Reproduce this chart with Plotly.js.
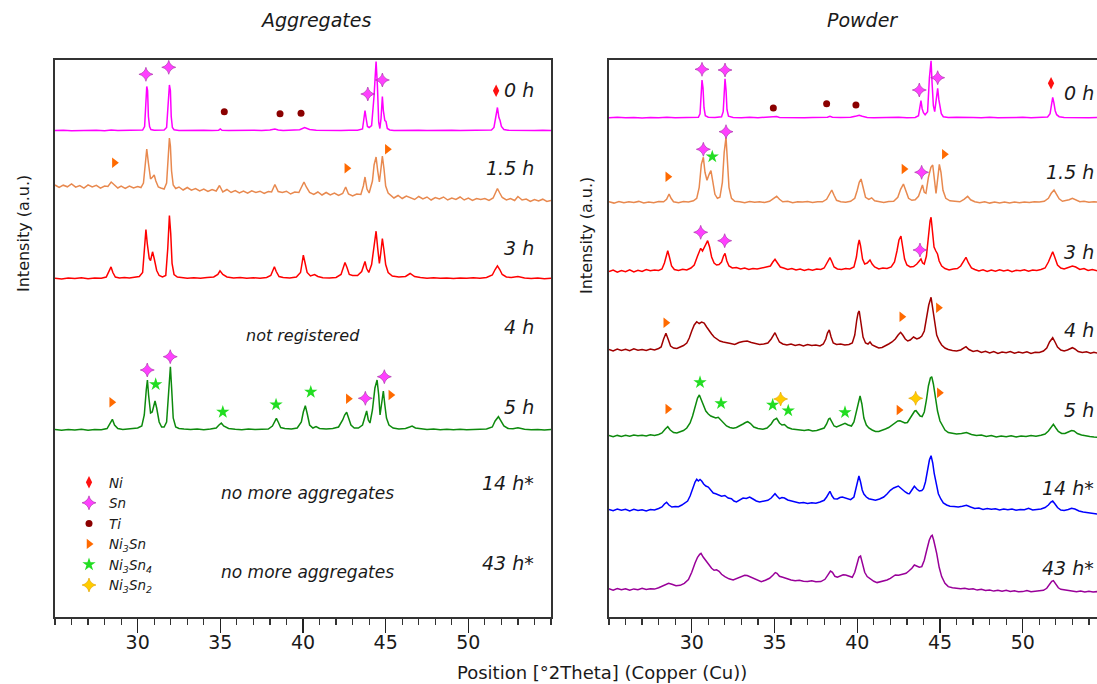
<!DOCTYPE html>
<html>
<head>
<meta charset="utf-8">
<script src="https://cdn.plot.ly/plotly-3.0.1.min.js"></script>
<style>html,body{margin:0;padding:0;background:#fff;}#chart{width:1097px;height:684px;}</style>
</head>
<body>
<div id="chart"></div>
<script>
// ---------------- DATA (2theta, intensity above pattern baseline; arbitrary units) ----------------
const timeLabels = ["0 h", "1.5 h", "3 h", "4 h", "5 h", "14 h*", "43 h*"];

// Aggregates panel: stacking baselines for 0 h, 1.5 h, 3 h, 5 h
const aggBase = [486.5, 416, 338.5, 187];
// Powder panel: stacking baselines for 0 h, 1.5 h, 3 h, 4 h, 5 h, 14 h*, 43 h*
const powBase = [499.3, 414.7, 346, 264, 181, 103, 24.7];

const agg0h = [25.0,0, 25.5,0.3, 26.0,-0.2, 26.5,0.2, 27.0,0, 27.5,0.3, 28.0,-0.2, 28.4,0.4, 28.8,0, 29.2,0.2, 29.6,-0.1, 30.0,0.2, 30.3,0.5, 30.42,4, 30.48,30, 30.55,44, 30.6,40, 30.65,14, 30.72,4, 30.8,1, 31.0,0.3, 31.3,0, 31.6,0.4, 31.75,3, 31.85,30, 31.92,45.5, 31.98,40, 32.03,14, 32.1,3, 32.2,0.8, 32.5,0, 33.0,0.3, 33.5,-0.1, 34.0,0.2, 34.5,0, 34.9,0.3, 35.0,1.5, 35.1,0.2, 35.5,0, 36.0,0.3, 36.5,-0.1, 37.0,0.2, 37.5,0, 38.0,0.4, 38.3,1.5, 38.5,0.5, 38.8,0, 39.3,0.3, 39.8,0.8, 40.1,3, 40.4,1, 40.8,0.2, 41.3,0, 41.8,0.3, 42.3,-0.1, 42.8,0.2, 43.3,0.3, 43.6,1.5, 43.7,15, 43.75,20, 43.82,12, 43.9,4, 44.0,3, 44.15,5, 44.3,35, 44.42,69, 44.5,45, 44.58,8, 44.65,2, 44.72,12, 44.8,34, 44.86,20, 44.95,10, 45.02,9, 45.1,2, 45.25,0.5, 45.5,0, 46.0,0.3, 46.5,-0.1, 47.0,0.2, 47.5,0, 48.0,0.3, 48.5,0, 49.0,0.2, 49.5,-0.1, 50.0,0.2, 50.5,0, 51.0,0.3, 51.4,0.5, 51.55,3, 51.68,15, 51.76,23, 51.85,13, 51.92,10, 52.0,4, 52.15,1, 52.4,0.3, 53.0,0, 53.5,0.2, 54.0,-0.1, 54.5,0.2, 55.0,0];

const agg15h = [25.0,16.0, 25.25,13.5, 25.5,15.8, 25.75,14.2, 26.0,17.0, 26.25,13.8, 26.5,15.5, 26.75,12.9, 27.0,16.2, 27.25,14.0, 27.5,15.6, 27.75,12.8, 28.0,15.0, 28.2,14.5, 28.4,19.0, 28.6,15.5, 28.8,13.0, 29.0,14.8, 29.25,12.5, 29.5,15.0, 29.75,13.0, 30.0,14.5, 30.2,13.5, 30.35,18, 30.45,40, 30.55,52, 30.65,38, 30.78,22, 30.9,24, 31.0,26, 31.1,20, 31.25,14, 31.4,13, 31.6,12, 31.75,18, 31.85,50, 31.92,63, 31.98,55, 32.05,30, 32.15,16, 32.3,12.5, 32.5,14.0, 32.75,11.0, 33.0,13.5, 33.25,10.8, 33.5,12.5, 33.75,10.0, 34.0,12.0, 34.25,9.5, 34.5,11.5, 34.75,10.0, 34.95,15.5, 35.15,9.0, 35.4,11.5, 35.65,8.5, 35.9,10.5, 36.15,8.0, 36.4,10.0, 36.65,7.8, 36.9,10.2, 37.15,8.5, 37.4,9.8, 37.65,7.5, 37.9,9.5, 38.1,9.0, 38.3,16.5, 38.5,9.5, 38.75,8.5, 39.0,9.8, 39.25,7.0, 39.5,9.0, 39.75,8.5, 39.95,15, 40.06,19, 40.2,14, 40.4,8.5, 40.65,6.5, 40.9,9.0, 41.15,6.0, 41.4,8.5, 41.65,6.0, 41.9,8.0, 42.15,5.5, 42.4,7.5, 42.58,14, 42.75,7.0, 43.0,5.0, 43.25,7.0, 43.5,6.5, 43.65,15, 43.75,24, 43.87,12, 44.0,8, 44.2,20, 44.3,36, 44.42,44, 44.52,30, 44.62,19, 44.7,30, 44.8,45, 44.9,32, 45.0,15, 45.15,8, 45.3,5.5, 45.5,3.0, 45.75,5.5, 46.0,2.5, 46.25,5.0, 46.5,3.5, 46.75,1.5, 47.0,4.5, 47.25,2.0, 47.5,4.0, 47.75,1.0, 48.0,3.5, 48.25,2.0, 48.5,4.0, 48.75,1.0, 49.0,3.0, 49.25,1.5, 49.5,4.0, 49.75,1.0, 50.0,3.0, 50.25,0.5, 50.5,2.5, 50.75,1.5, 51.0,2.5, 51.25,0.5, 51.5,3.0, 51.65,8, 51.76,12.5, 51.9,8, 52.05,3.5, 52.3,1.0, 52.55,2.5, 52.8,0.5, 53.0,4.5, 53.25,1.0, 53.5,2.0, 53.75,-0.5, 54.0,1.5, 54.25,0.0, 54.5,1.8, 54.75,-0.5, 55.0,0.5];

const agg3h = [25.0,0.3, 25.4,-0.5, 25.8,0.6, 26.2,0, 26.6,0.8, 27.0,-0.3, 27.4,0.5, 27.8,0.2, 28.1,1.5, 28.25,6, 28.39,11.6, 28.5,6, 28.65,1.5, 28.9,0.5, 29.2,1, 29.5,0.5, 29.8,1.2, 30.1,2, 30.3,6, 30.42,30, 30.5,49, 30.58,35, 30.7,20, 30.78,18, 30.9,26.7, 31.0,20, 31.15,8, 31.3,3, 31.5,1.5, 31.7,3, 31.82,30, 31.92,63, 32.0,45, 32.08,15, 32.2,4, 32.4,1.5, 32.7,1, 33.0,0.3, 33.4,0.8, 33.8,0.2, 34.2,1.0, 34.6,1.5, 34.85,4, 34.98,7.7, 35.15,4, 35.4,1.5, 35.8,0.5, 36.2,1, 36.6,0.3, 37.0,0.8, 37.4,0.2, 37.8,1.0, 38.05,3, 38.18,8, 38.27,11.7, 38.38,7, 38.55,2, 38.8,1, 39.2,0.5, 39.6,1.5, 39.85,6, 39.95,16, 40.02,23.3, 40.12,16, 40.25,6, 40.45,2.5, 40.7,4, 40.9,2, 41.2,0.8, 41.6,0.5, 42.0,1.0, 42.3,4, 42.42,11, 42.54,16, 42.66,11, 42.8,4, 43.0,3, 43.3,3, 43.55,7, 43.68,14, 43.75,17, 43.85,10, 43.98,6, 44.15,14, 44.3,35, 44.42,47.3, 44.52,30, 44.62,15, 44.7,25, 44.8,40, 44.9,28, 45.0,14, 45.15,6, 45.4,2.5, 45.8,1.5, 46.2,2, 46.48,5, 46.75,2, 47.1,1, 47.5,0.3, 47.9,0.8, 48.3,0.2, 48.7,0.6, 49.1,0, 49.5,0.5, 49.9,0.2, 50.3,0.8, 50.7,0.3, 51.1,1, 51.45,3.5, 51.62,9, 51.76,12.7, 51.9,9, 52.05,4, 52.3,1.5, 52.6,1, 53.0,2, 53.4,0.5, 53.8,0, 54.2,0.5, 54.6,-0.2, 55.0,0.3];

const agg5h = [25.0,0.5, 25.4,-0.3, 25.8,0.5, 26.2,0, 26.6,0.7, 27.0,-0.2, 27.4,0.6, 27.8,0.3, 28.15,1.5, 28.32,6, 28.47,10.7, 28.6,5, 28.8,1.5, 29.1,0.5, 29.4,1, 29.7,0.8, 30.0,2, 30.25,4, 30.4,15, 30.52,40, 30.59,50, 30.66,35, 30.78,17, 30.88,18, 31.05,29, 31.15,22, 31.3,8, 31.45,3, 31.6,3, 31.75,8, 31.88,45, 31.98,63.3, 32.06,40, 32.15,12, 32.3,3, 32.5,1.5, 32.8,1, 33.2,0.5, 33.6,1, 34.0,0.3, 34.4,1, 34.75,2, 34.92,5, 35.06,7, 35.2,4, 35.5,1.5, 35.9,0.8, 36.3,0.3, 36.7,1, 37.1,0.4, 37.5,0.8, 37.9,1, 38.15,4, 38.28,9, 38.39,11.7, 38.5,8, 38.65,2.5, 38.9,1.5, 39.3,1, 39.65,2, 39.9,8, 40.02,18, 40.14,24.3, 40.26,16, 40.4,5, 40.6,2, 40.79,3.5, 41.0,1.5, 41.4,1, 41.8,1.5, 42.15,3, 42.4,10, 42.52,15, 42.64,17.7, 42.76,12, 42.9,5, 43.1,2, 43.35,2, 43.6,5, 43.75,15, 43.85,19, 43.95,10, 44.05,7, 44.2,20, 44.35,42, 44.48,50, 44.58,35, 44.66,15, 44.75,25, 44.86,39, 44.95,25, 45.05,12, 45.2,5, 45.45,2, 45.8,1, 46.2,1.5, 46.45,3, 46.6,4, 46.8,2, 47.1,1, 47.5,0.4, 47.9,1, 48.3,0.2, 48.7,0.8, 49.1,0.3, 49.5,0.8, 49.9,0.2, 50.3,0.6, 50.7,0.5, 51.1,1, 51.45,3, 51.62,9, 51.82,13.3, 51.98,9, 52.15,4, 52.4,1.5, 52.7,1.2, 53.0,2.2, 53.4,0.8, 53.8,0.3, 54.2,0.6, 54.6,0, 55.0,0.4];

const pow0h = [25.0,0, 25.5,0.4, 26.0,0, 26.5,0.3, 27.0,-0.2, 27.5,0.3, 28.0,0, 28.5,0.4, 29.0,0, 29.5,0.3, 30.0,0, 30.4,0.5, 30.5,4, 30.56,25, 30.62,37.7, 30.68,30, 30.74,10, 30.82,2, 31.0,0.5, 31.4,0.2, 31.8,1, 31.9,6, 31.96,30, 32.01,39, 32.07,28, 32.13,8, 32.22,1.5, 32.5,0.3, 33.0,0, 33.5,0.4, 34.0,0, 34.5,0.3, 34.95,0.5, 35.13,1.2, 35.3,0.3, 35.8,0, 36.3,0.4, 36.8,0, 37.3,0.3, 37.8,0, 38.2,0.5, 38.35,1.5, 38.5,0.5, 39.0,0.2, 39.6,0.5, 39.95,1.8, 40.12,2.5, 40.3,1.5, 40.6,0.3, 41.0,0, 41.5,0.3, 42.0,0, 42.5,0.4, 43.0,0, 43.5,0.3, 43.7,2, 43.8,12, 43.85,17, 43.92,9, 44.0,5, 44.1,3, 44.25,6, 44.36,40, 44.46,57, 44.52,35, 44.6,12, 44.68,6, 44.78,18, 44.86,29.3, 44.93,18, 45.0,12, 45.08,4, 45.2,1, 45.5,0.2, 46.0,0.4, 46.5,0, 47.0,0.3, 47.5,0, 48.0,0.4, 48.5,0, 49.0,0.3, 49.5,0, 50.0,0.4, 50.5,0, 51.0,0.3, 51.5,0.8, 51.65,4, 51.74,15, 51.81,20.3, 51.88,15, 51.96,7, 52.05,3, 52.2,1, 52.5,0.3, 53.0,0, 53.5,0.3, 54.0,0, 54.5,0.2];

const pow15h = [25.0,0.5, 25.3,-0.8, 25.6,0.8, 25.9,-0.5, 26.2,0.6, 26.5,-0.3, 26.8,0.9, 27.1,-0.6, 27.4,0.4, 27.7,-0.4, 28.0,0.8, 28.3,0.5, 28.48,3, 28.63,8.3, 28.75,4, 28.9,0.5, 29.2,-0.5, 29.5,0.8, 29.8,0.2, 30.1,1.5, 30.3,4, 30.45,15, 30.58,38, 30.7,45, 30.8,30, 30.92,22, 31.05,28, 31.16,31.7, 31.26,22, 31.4,8, 31.55,4, 31.7,5, 31.85,20, 31.96,50, 32.07,65, 32.15,45, 32.25,15, 32.4,4, 32.6,1, 32.9,0.5, 33.2,-0.5, 33.5,0.8, 33.8,0, 34.1,0.6, 34.4,-0.3, 34.7,1, 34.95,3.5, 35.13,6, 35.3,3, 35.5,0.5, 35.8,1, 36.1,-0.5, 36.4,0.5, 36.7,0.2, 37.0,0.8, 37.3,-0.3, 37.6,0.6, 37.9,0.5, 38.15,3, 38.3,8, 38.46,12.3, 38.6,7, 38.75,2, 39.0,0.5, 39.3,0, 39.6,1, 39.85,4, 40.0,12, 40.12,20, 40.23,23.3, 40.35,14, 40.5,5, 40.7,3, 40.87,4.5, 41.05,1.5, 41.3,0.5, 41.6,-0.3, 41.9,0.8, 42.2,1, 42.45,5, 42.62,13, 42.79,18.3, 42.95,10, 43.1,4, 43.3,2, 43.5,2.5, 43.7,6, 43.82,12, 43.94,17.3, 44.05,10, 44.15,9, 44.3,25, 44.45,35, 44.56,37.3, 44.66,22, 44.76,9, 44.85,22, 44.96,38, 45.06,30, 45.18,12, 45.35,4, 45.6,1.5, 45.9,1, 46.2,0.5, 46.45,3, 46.67,6, 46.85,2.5, 47.1,0.5, 47.4,-0.5, 47.7,0.6, 48.0,-0.8, 48.3,0.4, 48.6,-0.6, 48.9,0.3, 49.2,-0.8, 49.5,0.2, 49.8,-0.5, 50.1,0.4, 50.4,-0.3, 50.7,0.6, 51.0,0.2, 51.3,1, 51.55,4, 51.72,9, 51.89,12.3, 52.05,8, 52.2,3.5, 52.4,1, 52.6,1.5, 52.8,2.5, 53.0,4, 53.2,2.5, 53.45,0.5, 53.7,1, 54.0,0, 54.3,0.5, 54.5,0.2];

const pow3h = [25.0,-0.5, 25.25,1.0, 25.5,-1.2, 25.75,0.5, 26.0,-0.8, 26.25,1.2, 26.5,-1.0, 26.75,0.8, 27.0,-0.5, 27.25,1.5, 27.5,0.2, 27.75,1.0, 28.0,0.5, 28.2,2, 28.35,8, 28.47,17, 28.55,20.3, 28.65,14, 28.78,5, 28.95,1.5, 29.2,0.5, 29.45,1.8, 29.7,1, 29.95,3, 30.15,6, 30.35,15, 30.54,22.7, 30.65,20, 30.78,24, 30.96,30.3, 31.08,24, 31.2,14, 31.35,8, 31.5,6, 31.65,6.5, 31.8,9, 31.92,15, 32.01,17.7, 32.12,10, 32.25,5, 32.45,3, 32.7,3.5, 32.95,2, 33.2,3, 33.45,1.5, 33.7,2.5, 33.95,2, 34.2,3, 34.5,3.5, 34.75,5, 34.9,9, 35.03,11.7, 35.18,8, 35.35,4, 35.55,3, 35.8,1.5, 36.05,2.5, 36.3,1, 36.55,2, 36.8,0.5, 37.05,1.8, 37.3,0.8, 37.55,2, 37.8,1.5, 38.0,3, 38.15,7, 38.25,11, 38.35,13.3, 38.45,10, 38.6,4, 38.8,2, 39.05,1.5, 39.3,2.5, 39.55,2, 39.8,4, 39.95,14, 40.05,26, 40.12,31, 40.2,25, 40.32,12, 40.45,7, 40.6,8, 40.77,11, 40.9,7, 41.05,4, 41.3,2, 41.55,3, 41.8,2.5, 42.05,4, 42.25,9, 42.4,20, 42.52,31, 42.64,35, 42.74,26, 42.86,12, 43.0,6, 43.2,4, 43.4,4.5, 43.6,7, 43.75,10, 43.85,12, 43.95,8, 44.05,7, 44.18,15, 44.3,36, 44.4,50, 44.46,53.7, 44.54,40, 44.64,24, 44.75,20, 44.85,17, 44.95,10, 45.1,5, 45.3,2.5, 45.55,1, 45.8,2, 46.05,2.5, 46.25,5, 46.42,10, 46.57,13.7, 46.72,8, 46.9,3, 47.1,1.5, 47.35,0, 47.6,1.2, 47.85,-0.5, 48.1,1, 48.35,-0.3, 48.6,1.2, 48.85,0, 49.1,1, 49.35,-0.8, 49.6,0.8, 49.85,0.2, 50.1,1.3, 50.35,-0.2, 50.6,1, 50.85,0.5, 51.1,1.5, 51.35,3, 51.55,9, 51.7,16, 51.81,19.3, 51.93,14, 52.1,6, 52.3,3, 52.5,2, 52.75,3.5, 53.0,5, 53.2,4, 53.45,1.5, 53.7,2.5, 53.95,0.5, 54.2,1.5, 54.5,0.2];

const pow4h = [25.0,3.5, 25.25,2.0, 25.5,4.0, 25.75,2.5, 26.0,3.8, 26.25,2.2, 26.5,4.2, 26.75,2.8, 27.0,3.5, 27.25,2.5, 27.5,4.0, 27.75,3.0, 28.0,4.5, 28.15,6, 28.3,14, 28.44,19.7, 28.57,14, 28.72,7, 28.9,5, 29.1,4.5, 29.3,6, 29.5,7.5, 29.7,10, 29.85,15, 30.0,22, 30.15,28, 30.3,31.3, 30.45,29.5, 30.6,31, 30.75,30, 30.9,26, 31.05,22, 31.2,19, 31.35,16, 31.5,14, 31.7,12, 31.9,11, 32.1,10, 32.35,9.5, 32.6,8.5, 32.85,10.5, 33.1,11.5, 33.35,12, 33.6,10.5, 33.85,9.5, 34.1,8.5, 34.35,9, 34.6,10, 34.8,14, 34.95,19, 35.03,20.3, 35.15,16, 35.3,11, 35.5,9, 35.75,8, 36.0,9, 36.25,7.5, 36.5,8.5, 36.75,7, 37.0,8.5, 37.25,7.5, 37.5,8, 37.75,7, 37.95,9, 38.1,14, 38.2,20, 38.31,23, 38.42,16, 38.55,10, 38.75,8.5, 39.0,9, 39.25,8, 39.5,8.5, 39.7,10, 39.85,18, 39.97,33, 40.05,40, 40.12,42, 40.22,32, 40.35,16, 40.5,10, 40.65,9, 40.77,11, 40.9,8, 41.1,6.5, 41.3,5, 41.5,5.5, 41.7,7, 41.9,9, 42.1,11, 42.3,14, 42.47,18, 42.62,20.7, 42.75,18, 42.9,14, 43.05,12, 43.2,13, 43.4,16, 43.6,14, 43.75,15, 43.9,17, 44.05,22, 44.2,35, 44.32,48, 44.46,55.7, 44.56,45, 44.68,28, 44.8,18, 44.95,12, 45.1,8, 45.3,5, 45.5,3.5, 45.75,2.5, 46.0,2, 46.25,3, 46.42,5, 46.57,6.3, 46.75,3.5, 47.0,1.5, 47.25,2.5, 47.5,0.5, 47.75,1.8, 48.0,0, 48.25,1.5, 48.5,-0.5, 48.75,1.0, 49.0,0.2, 49.25,1.5, 49.5,-0.3, 49.75,1.0, 50.0,0, 50.25,1.2, 50.5,-0.5, 50.75,0.8, 51.0,0.5, 51.25,2, 51.45,5, 51.62,11, 51.81,15.3, 51.95,11, 52.1,6, 52.3,3, 52.5,2, 52.7,3, 52.85,4.5, 53.0,5.3, 53.15,4, 53.35,1.5, 53.6,0.5, 53.85,1.2, 54.1,-0.3, 54.3,0.8, 54.5,0];

const pow5h = [25.0,0.5, 25.25,-0.8, 25.5,0.6, 25.75,-0.4, 26.0,0.8, 26.25,-0.2, 26.5,1.0, 26.75,0.2, 27.0,0.8, 27.25,0, 27.5,1.2, 27.75,0.5, 28.0,1.5, 28.2,3, 28.4,7, 28.55,9.3, 28.7,6, 28.9,3.5, 29.1,3, 29.3,4, 29.5,5.5, 29.7,8, 29.9,13, 30.05,20, 30.2,30, 30.35,38, 30.46,41, 30.58,36, 30.7,30, 30.85,25, 31.0,22, 31.15,20, 31.3,19, 31.45,18, 31.6,18.7, 31.75,16, 31.9,13, 32.1,10, 32.3,8.5, 32.5,7.7, 32.7,8.5, 32.9,10, 33.1,12, 33.25,13.5, 33.38,14.3, 33.55,12.5, 33.75,9, 34.0,7.5, 34.3,6.7, 34.55,8, 34.8,12, 34.95,16, 35.13,17.7, 35.3,13, 35.45,11, 35.6,11.5, 35.8,8.5, 36.05,7, 36.3,6.5, 36.55,6, 36.8,5.5, 37.05,6.2, 37.3,5, 37.55,5.5, 37.8,6.5, 38.0,8, 38.15,12, 38.27,17, 38.35,17.7, 38.45,14, 38.6,10, 38.75,9, 38.95,10.5, 39.1,12, 39.26,12.7, 39.45,11, 39.65,10, 39.8,14, 39.95,25, 40.07,36, 40.17,40, 40.28,32, 40.4,18, 40.55,11, 40.7,8, 40.9,6, 41.1,4.5, 41.3,4.5, 41.5,5.5, 41.7,7, 41.9,8.5, 42.1,11, 42.3,13.5, 42.45,15, 42.58,15.3, 42.72,14, 42.88,13, 43.03,13.5, 43.18,17, 43.35,22, 43.47,25, 43.55,25.3, 43.65,23, 43.8,20, 43.92,19.5, 44.05,24, 44.18,36, 44.3,50, 44.42,58, 44.5,59.3, 44.6,52, 44.72,38, 44.85,25, 45.0,15, 45.15,10, 45.3,6, 45.5,3.5, 45.75,2.5, 46.0,2, 46.3,2.5, 46.6,3.5, 46.9,1.5, 47.2,0.5, 47.5,1, 47.8,-0.5, 48.1,0.5, 48.4,-1, 48.7,0, 49.0,-0.8, 49.3,0.3, 49.6,-1, 49.9,0, 50.2,-0.6, 50.5,0.5, 50.8,-0.2, 51.1,0.8, 51.35,2, 51.55,5, 51.72,9.5, 51.85,11.7, 52.0,8, 52.15,4.5, 52.35,2.5, 52.55,2.5, 52.75,4, 52.95,5.5, 53.1,5, 53.3,2.5, 53.55,1, 53.8,0, 54.05,-0.5, 54.3,-1, 54.5,-1.3];

const pow14h = [25.0,4.5, 25.25,3.2, 25.5,5.0, 25.75,3.8, 26.0,4.8, 26.25,3.0, 26.5,4.6, 26.75,3.5, 27.0,4.2, 27.25,3.0, 27.5,4.5, 27.75,4.0, 28.0,5.5, 28.2,7, 28.35,10, 28.48,11.7, 28.62,9, 28.8,7, 29.0,7.5, 29.2,7.3, 29.4,9, 29.6,11, 29.75,13, 29.9,18, 30.05,26, 30.2,32, 30.3,34.7, 30.4,33, 30.5,34.5, 30.6,33, 30.72,30, 30.85,28, 31.0,27, 31.15,24, 31.3,21, 31.45,20.3, 31.6,19, 31.8,17.7, 32.0,18.5, 32.2,16, 32.4,15.3, 32.55,13, 32.7,12, 32.9,14, 33.1,16, 33.3,15.5, 33.5,17, 33.7,15, 33.9,13, 34.1,12, 34.35,12.5, 34.6,13.7, 34.8,16, 34.95,19, 35.03,20.3, 35.15,18, 35.3,15.3, 35.45,16.5, 35.6,16, 35.8,14, 36.0,13, 36.25,12, 36.5,11, 36.75,11.5, 37.0,10.5, 37.25,11.3, 37.5,10.7, 37.75,12, 38.0,13.7, 38.15,17, 38.27,21, 38.35,22.7, 38.48,18, 38.6,15.3, 38.8,15, 38.95,16.5, 39.1,17, 39.3,16, 39.6,14.3, 39.8,17, 39.95,28, 40.05,36, 40.1,38, 40.2,32, 40.3,24, 40.4,20, 40.55,17, 40.7,15.3, 40.9,14.5, 41.1,13.7, 41.35,15, 41.6,17, 41.8,20, 42.0,23.7, 42.2,26, 42.35,27.5, 42.48,28, 42.62,26, 42.75,24, 42.9,22, 43.05,20.5, 43.15,20.3, 43.3,24, 43.45,27.7, 43.6,25, 43.75,23, 43.9,23.5, 44.0,25.3, 44.12,32, 44.25,44, 44.36,54, 44.46,58.3, 44.56,51, 44.65,40.7, 44.78,28, 44.9,20.3, 45.05,15, 45.2,11, 45.4,9, 45.6,7.7, 45.85,7.5, 46.1,7, 46.35,7.8, 46.6,8.7, 46.85,7, 47.1,5.5, 47.35,6, 47.6,4.5, 47.85,5.5, 48.1,4.7, 48.35,5.2, 48.6,4, 48.85,5, 49.1,4.2, 49.35,5, 49.6,3.8, 49.85,4.6, 50.1,4.3, 50.35,5.8, 50.6,4, 50.85,4.5, 51.1,5, 51.35,6.5, 51.55,9, 51.7,12, 51.81,13, 51.95,10, 52.1,6.5, 52.3,4, 52.5,3.5, 52.75,4.5, 52.95,5.7, 53.15,5, 53.4,3, 53.65,2, 53.9,1.5, 54.2,0.5, 54.5,0];

const pow43h = [25.0,3.5, 25.25,2.2, 25.5,3.8, 25.75,2.5, 26.0,3.6, 26.25,2.0, 26.5,3.4, 26.75,2.6, 27.0,3.9, 27.25,2.8, 27.5,3.5, 27.75,3.2, 28.0,4.5, 28.2,6, 28.4,8, 28.6,9, 28.8,8, 29.05,6.5, 29.3,7, 29.55,9, 29.8,12.7, 30.0,20, 30.2,29.3, 30.35,35, 30.48,38, 30.56,39, 30.7,35, 30.9,30.7, 31.05,27, 31.2,24, 31.35,22, 31.5,22.5, 31.65,21, 31.8,18, 32.0,15.7, 32.25,13.5, 32.5,12.3, 32.75,14, 33.0,15.7, 33.2,17, 33.35,16.7, 33.5,15.5, 33.7,14, 33.95,12, 34.2,10.7, 34.45,12, 34.7,14, 34.9,17, 35.05,19.7, 35.15,19, 35.3,16, 35.5,15, 35.75,13.5, 36.0,12.3, 36.25,11.5, 36.5,12, 36.75,11, 37.0,10.7, 37.25,11.5, 37.5,10.5, 37.8,10.7, 38.05,13, 38.25,18, 38.38,21.3, 38.5,20, 38.65,16, 38.8,15, 39.0,16.5, 39.15,17.5, 39.3,17.3, 39.5,16, 39.7,15, 39.85,20, 40.0,30, 40.1,35, 40.2,36.3, 40.3,30, 40.45,20, 40.6,15.7, 40.8,13, 41.0,11, 41.2,9.7, 41.4,10.5, 41.6,11, 41.8,12.3, 42.0,14, 42.15,16, 42.3,17.3, 42.5,17, 42.65,17.5, 42.8,18, 42.95,19, 43.1,21, 43.3,24, 43.45,27.3, 43.6,26.5, 43.75,25, 43.9,25.7, 44.05,32, 44.2,42.3, 44.35,52, 44.46,56, 44.53,57, 44.62,52, 44.72,45, 44.8,39, 44.95,25, 45.1,15.7, 45.3,9, 45.5,5.7, 45.75,4.5, 46.0,4.2, 46.25,3.5, 46.5,4, 46.75,3, 47.0,3.5, 47.25,2.2, 47.5,3, 47.75,1.8, 48.0,2.3, 48.25,1.2, 48.5,2, 48.75,1, 49.0,2, 49.25,0.8, 49.5,1.5, 49.75,0.5, 50.0,0.7, 50.25,1.8, 50.5,0.5, 50.75,1.2, 51.0,1.5, 51.25,2, 51.45,4, 51.62,8, 51.75,11, 51.85,11.7, 51.98,8, 52.15,4.5, 52.3,3, 52.5,2.5, 52.75,2, 53.0,1.5, 53.25,0.5, 53.5,1.2, 53.75,0.3, 54.0,1, 54.25,0.2, 54.5,0.7];

// Phase identification markers: [2theta, level] pairs (same intensity units)
const phaseNames = ["Ni", "Sn", "Ti", "Ni<sub>3</sub>Sn", "Ni<sub>3</sub>Sn<sub>4</sub>", "Ni<sub>3</sub>Sn<sub>2</sub>"];
const aggNi = [44.42,565.3, 51.68,526.3];
const aggSn = [30.5,542.7, 31.88,549.7, 43.92,523, 44.8,537, 30.58,247, 31.97,260.3, 43.77,218.7, 44.92,240.3];
const aggTi = [35.24,505.3, 38.61,503.3, 39.88,503.7];
const aggNi3Sn = [28.59,454.3, 42.65,448.7, 45.1,467.7, 28.43,214.7, 42.74,218.3, 45.31,222];
const aggNi3Sn4 = [31.09,232.7, 35.15,205, 38.37,212.3, 40.47,225];
const powNi = [44.46,564.7, 51.71,533.7];
const powSn = [30.62,547.7, 32.01,547, 43.75,527, 44.86,539.3, 30.7,467.7, 32.07,485.3, 43.89,444.7, 30.54,384.7, 31.99,376.3, 43.79,367];
const powTi = [34.93,509, 38.15,513.3, 39.92,512];
const powNi3Sn = [28.55,440.3, 42.82,448, 45.26,462.7, 28.43,294.3, 42.69,300.3, 44.9,309.3, 28.55,208, 42.52,207, 44.96,224.3];
const powNi3Sn4 = [31.24,460.3, 30.5,234.7, 31.77,213.7, 34.89,212, 35.83,206.3, 39.26,204.7];
const powNi3Sn2 = [35.37,218, 43.53,218.7];

// ---------------- BUILD ----------------
const FONT = "DejaVu Sans, sans-serif";
const TXT = "#1a1a1a";
const lineColors = ["#ff00ff", "#e8894f", "#ff0000", "#a00000", "#0d8a0d", "#0000ff", "#990099"];

function pairs(flat, base) {
  const x = [], y = [];
  for (let i = 0; i < flat.length; i += 2) { x.push(flat[i]); y.push(base + flat[i + 1]); }
  return {x, y};
}
const traces = [];
function addLine(flat, base, color, xa, ya) {
  const p = pairs(flat, base);
  traces.push({type: "scatter", mode: "lines", x: p.x, y: p.y, xaxis: xa, yaxis: ya,
    line: {color: color, width: 1.5}, showlegend: false, hoverinfo: "skip"});
}
addLine(agg0h, aggBase[0], lineColors[0], "x", "y");
addLine(agg15h, aggBase[1], lineColors[1], "x", "y");
addLine(agg3h, aggBase[2], lineColors[2], "x", "y");
addLine(agg5h, aggBase[3], lineColors[4], "x", "y");
const powData = [pow0h, pow15h, pow3h, pow4h, pow5h, pow14h, pow43h];
powData.forEach((d, i) => addLine(d, powBase[i], lineColors[i], "x2", "y2"));

const markerStyles = [
  {symbol: "diamond-tall", color: "#ff1010", size: 9, line: {width: 0}},
  {symbol: "star-diamond", color: "#ff40ff", size: 10, line: {width: 0.6, color: "#a030a0"}},
  {symbol: "circle", color: "#8b0000", size: 7, line: {width: 0}},
  {symbol: "triangle-right", color: "#ff6a00", size: 9, line: {width: 0}},
  {symbol: "star", color: "#22dd22", size: 10, line: {width: 0}},
  {symbol: "star-diamond", color: "#ffcc00", size: 10, line: {width: 0.6, color: "#e0a000"}}
];
function addMarkers(flat, k, xa, ya, legend) {
  const p = pairs(flat, 0);
  traces.push({type: "scatter", mode: "markers", x: p.x, y: p.y, xaxis: xa, yaxis: ya,
    name: phaseNames[k], legendrank: k + 1, showlegend: legend, cliponaxis: false,
    marker: markerStyles[k], hoverinfo: "skip"});
}
addMarkers(aggNi, 0, "x", "y", true);
addMarkers(aggSn, 1, "x", "y", true);
addMarkers(aggTi, 2, "x", "y", true);
addMarkers(aggNi3Sn, 3, "x", "y", true);
addMarkers(aggNi3Sn4, 4, "x", "y", true);
addMarkers(powNi3Sn2, 5, "x2", "y2", true);
addMarkers(powNi, 0, "x2", "y2", false);
addMarkers(powSn, 1, "x2", "y2", false);
addMarkers(powTi, 2, "x2", "y2", false);
addMarkers(powNi3Sn, 3, "x2", "y2", false);
addMarkers(powNi3Sn4, 4, "x2", "y2", false);

const annotations = [];
const leftLabelY = [527, 449, 369, 290, 210, 134, 54];
const rightLabelY = [524, 445, 365, 287, 207, 129, 49];
timeLabels.forEach((t, i) => {
  annotations.push({text: t, xref: "paper", x: 536 / 1097, xanchor: "right", yref: "y", y: leftLabelY[i], yanchor: "middle",
    showarrow: false, font: {family: FONT, size: 19, color: TXT, style: "italic"}});
  annotations.push({text: t, xref: "paper", x: 1096 / 1097, xanchor: "right", yref: "y2", y: rightLabelY[i], yanchor: "middle",
    showarrow: false, font: {family: FONT, size: 19, color: TXT, style: "italic"}});
});
function note(text, xref, x, yref, y, size, extra) {
  annotations.push(Object.assign({text: text, xref: xref, x: x, yref: yref, y: y, xanchor: "center", yanchor: "middle",
    showarrow: false, font: {family: FONT, size: size, color: TXT}}, extra || {}));
}
note("not registered", "x", 40.0, "y", 282, 16, {font: {family: FONT, size: 16, color: TXT, style: "italic"}});
note("no more aggregates", "x", 40.3, "y", 124, 17, {font: {family: FONT, size: 17, color: TXT, style: "italic"}});
note("no more aggregates", "x", 40.3, "y", 45, 17, {font: {family: FONT, size: 17, color: TXT, style: "italic"}});
note("Aggregates", "paper", 315 / 1097, "paper", (617 - 20) / 557, 19, {font: {family: FONT, size: 19, color: TXT, style: "italic"}});
note("Powder", "paper", 862 / 1097, "paper", (617 - 20) / 557, 19, {font: {family: FONT, size: 19, color: TXT, style: "italic"}});
note("Intensity (a.u.)", "paper", 24 / 1097, "paper", (617 - 234) / 557, 16, {textangle: -90});
note("Intensity (a.u.)", "paper", 586 / 1097, "paper", (617 - 236) / 557, 16, {textangle: -90});
note("Position [°2Theta] (Copper (Cu))", "paper", 602 / 1097, "paper", (617 - 672) / 557, 18);

const xCommon = {
  tickmode: "array", tickvals: [30, 35, 40, 45, 50], ticks: "outside", ticklen: 14, tickwidth: 1.3, tickcolor: "#222",
  ticklabelstandoff: -6,
  minor: {tickmode: "linear", tick0: 25, dtick: 1, ticks: "outside", ticklen: 6, tickwidth: 1.2, tickcolor: "#333"},
  showline: true, mirror: true, linecolor: "#333", linewidth: 1.6, showgrid: false, zeroline: false,
  tickfont: {family: FONT, size: 19, color: TXT}
};
const yCommon = {range: [0, 557], showline: true, mirror: true, linecolor: "#333", linewidth: 1.6,
  showgrid: false, zeroline: false, showticklabels: false, ticks: ""};

const layout = {
  width: 1097, height: 684,
  margin: {l: 0, r: 0, t: 60, b: 67, pad: 0},
  paper_bgcolor: "#ffffff", plot_bgcolor: "#ffffff",
  showlegend: true,
  legend: {x: 69 / 1097, xanchor: "left", y: (617 - 467) / 557, yanchor: "top", bgcolor: "rgba(0,0,0,0)",
    font: {family: FONT, size: 13.5, color: TXT, style: "italic"}, itemwidth: 30, tracegroupgap: 0},
  xaxis: Object.assign({}, xCommon, {domain: [55 / 1097, 551 / 1097], range: [25, 55], anchor: "y"}),
  yaxis: Object.assign({}, yCommon, {domain: [0, 1], anchor: "x"}),
  xaxis2: Object.assign({}, xCommon, {domain: [609 / 1097, 1], range: [25, 25 + 488 / 16.55], anchor: "y2"}),
  yaxis2: Object.assign({}, yCommon, {domain: [0, 1], anchor: "x2"}),
  annotations: annotations
};

Plotly.newPlot("chart", traces, layout, {displayModeBar: false, staticPlot: true});
</script>
</body>
</html>
